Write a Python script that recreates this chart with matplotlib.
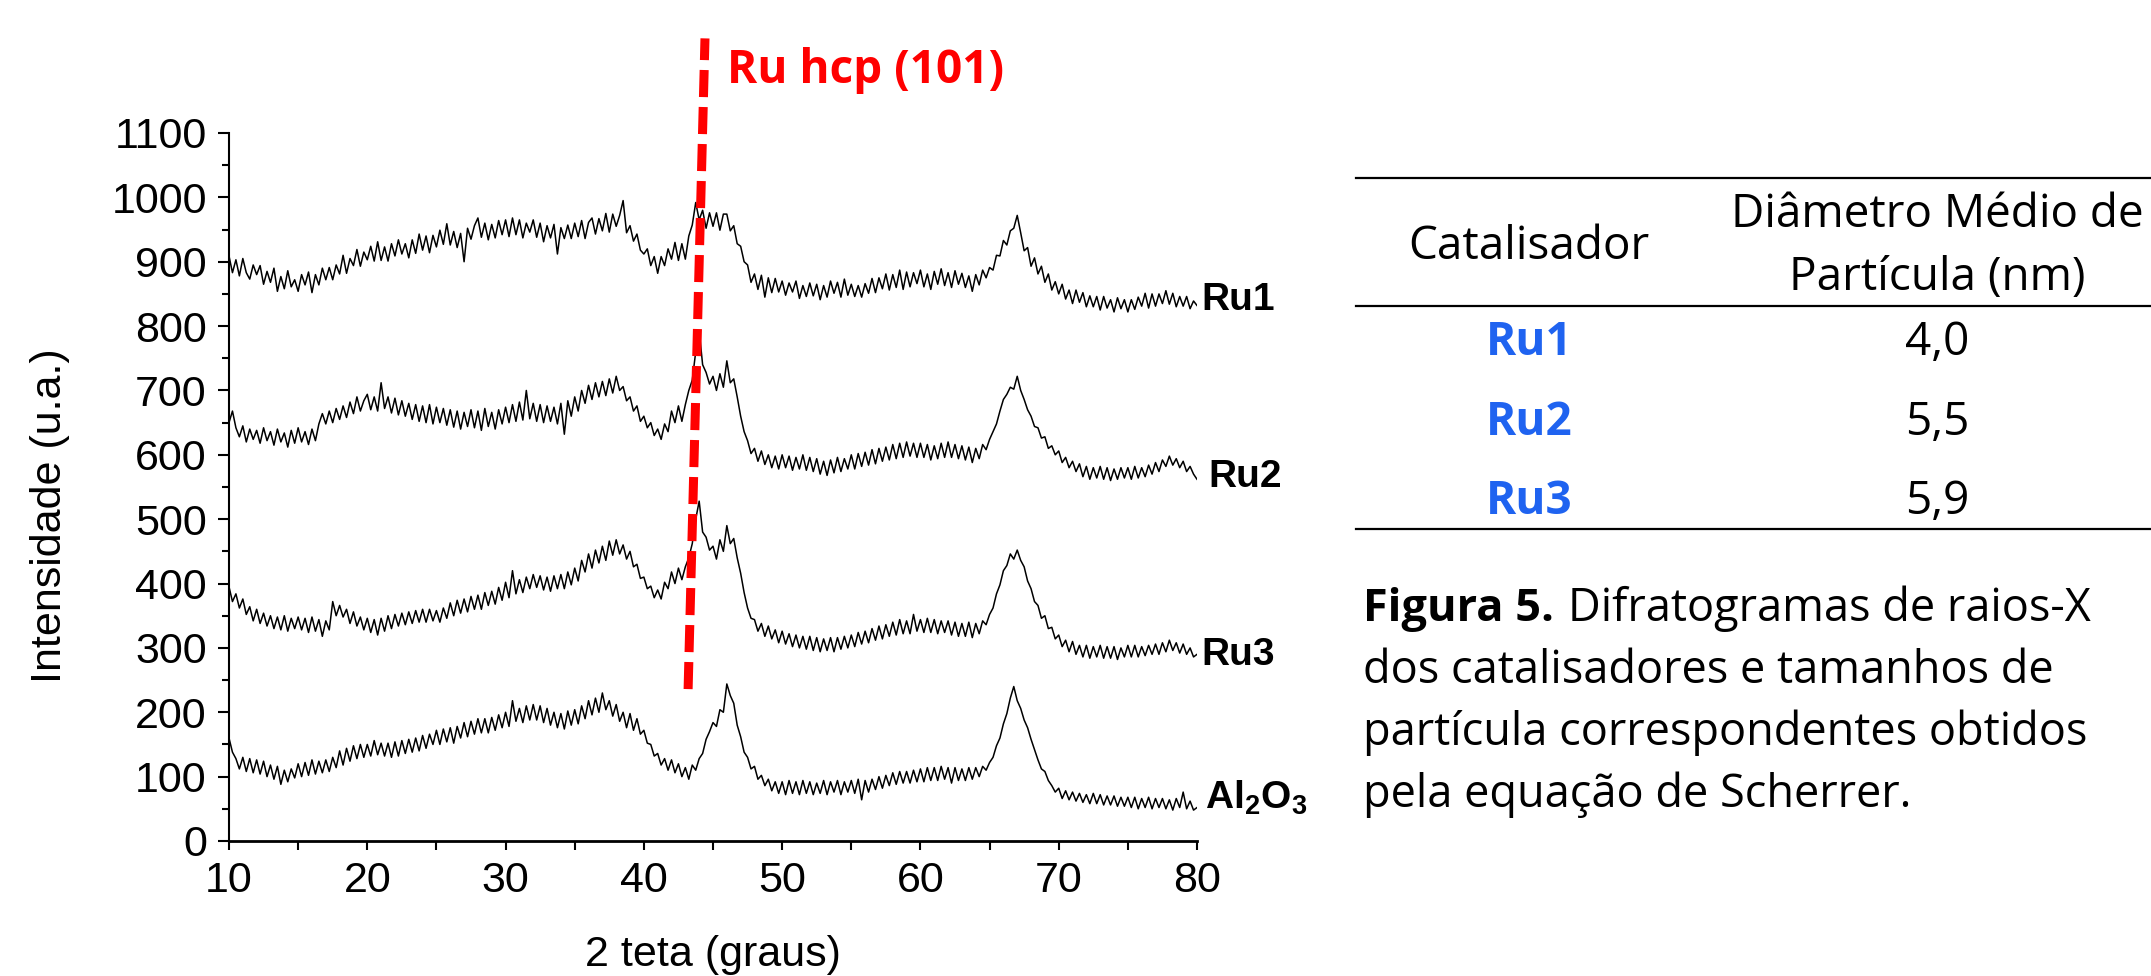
"""XRD patterns of the Ru catalysts plus the Scherrer particle-size table."""
import matplotlib
matplotlib.use("Agg")
import matplotlib.pyplot as plt
from matplotlib.lines import Line2D
from matplotlib.ticker import MultipleLocator
import numpy as np

plt.rcParams["font.family"] = ["Liberation Sans", "DejaVu Sans"]
plt.rcParams["mathtext.fontset"] = "custom"
plt.rcParams["mathtext.rm"] = "Liberation Sans"
plt.rcParams["mathtext.bf"] = "Liberation Sans:bold"

# ---------------------------------------------------------------------
# Data (2-theta every 0.25 deg, 10 -> 80; one row = 5 deg)
# ---------------------------------------------------------------------
TWO_THETA = np.arange(10.0, 80.001, 0.25)

RU1 = [
    909, 883, 903, 878, 905, 883, 873, 895, 880, 894, 865, 885, 868, 890, 854, 877, 858, 886, 861, 872,
    854, 880, 864, 884, 852, 880, 864, 890, 872, 891, 872, 895, 881, 910, 882, 905, 894, 919, 893, 915,
    903, 924, 901, 931, 902, 923, 901, 928, 909, 934, 912, 928, 906, 934, 913, 943, 918, 940, 914, 941,
    923, 949, 927, 959, 926, 947, 922, 944, 900, 952, 935, 956, 968, 938, 960, 934, 958, 937, 964, 942,
    965, 939, 968, 942, 965, 937, 960, 946, 965, 938, 960, 931, 956, 937, 958, 912, 953, 936, 957, 936,
    960, 939, 964, 936, 961, 968, 943, 967, 948, 975, 946, 974, 955, 972, 995, 945, 956, 932, 943, 918,
    912, 920, 894, 908, 882, 908, 894, 920, 904, 930, 902, 928, 904, 940, 957, 992, 965, 980, 952, 976,
    955, 976, 949, 974, 974, 948, 956, 928, 924, 900, 895, 868, 881, 857, 879, 845, 875, 852, 874, 853,
    870, 848, 867, 853, 870, 843, 863, 846, 867, 847, 865, 841, 863, 845, 870, 851, 868, 845, 873, 848,
    865, 846, 863, 845, 866, 851, 874, 852, 875, 858, 881, 856, 880, 860, 887, 857, 884, 861, 883, 866,
    887, 861, 881, 857, 885, 865, 889, 863, 883, 860, 886, 865, 882, 860, 878, 854, 880, 864, 887, 875,
    891, 887, 910, 909, 933, 926, 948, 952, 972, 945, 917, 922, 893, 906, 881, 893, 868, 881, 856, 869,
    850, 865, 842, 856, 835, 856, 837, 852, 830, 847, 830, 846, 825, 846, 828, 841, 822, 844, 827, 841,
    822, 841, 826, 845, 831, 851, 828, 850, 831, 850, 835, 855, 834, 851, 830, 846, 831, 846, 827, 839,
    832,
]
RU2 = [
    650, 668, 642, 628, 645, 620, 640, 624, 638, 618, 642, 622, 636, 615, 640, 620, 634, 612, 638, 618,
    642, 620, 636, 616, 640, 622, 648, 664, 648, 668, 650, 672, 655, 676, 658, 682, 664, 690, 668, 684,
    694, 670, 690, 668, 712, 672, 690, 665, 688, 662, 684, 660, 680, 655, 678, 652, 676, 650, 678, 648,
    674, 650, 672, 646, 670, 643, 668, 640, 666, 644, 670, 642, 668, 638, 672, 644, 666, 640, 670, 648,
    674, 650, 678, 652, 682, 654, 700, 656, 680, 652, 678, 650, 676, 652, 674, 648, 680, 632, 684, 660,
    690, 668, 700, 680, 708, 686, 712, 690, 714, 692, 718, 696, 722, 700, 706, 684, 690, 668, 676, 652,
    660, 642, 650, 630, 640, 624, 648, 636, 668, 650, 676, 652, 678, 700, 716, 760, 793, 740, 728, 710,
    722, 700, 726, 705, 746, 712, 718, 690, 660, 636, 622, 602, 610, 590, 606, 585, 600, 580, 598, 578,
    600, 580, 598, 576, 596, 578, 600, 576, 596, 574, 594, 570, 590, 568, 592, 572, 596, 574, 594, 578,
    600, 578, 602, 582, 604, 584, 608, 586, 610, 590, 612, 592, 616, 594, 618, 596, 620, 598, 618, 596,
    618, 596, 616, 592, 614, 594, 618, 596, 620, 596, 616, 594, 614, 592, 612, 588, 610, 594, 616, 608,
    624, 636, 648, 668, 686, 694, 705, 702, 722, 700, 686, 670, 660, 644, 642, 626, 628, 610, 614, 600,
    606, 588, 596, 580, 590, 574, 586, 566, 582, 562, 580, 564, 582, 562, 580, 560, 578, 562, 580, 564,
    580, 562, 582, 564, 580, 566, 584, 570, 588, 574, 592, 582, 598, 584, 594, 580, 590, 574, 582, 570,
    562,
]
RU3 = [
    395, 372, 384, 362, 376, 352, 364, 342, 360, 338, 354, 334, 350, 330, 348, 328, 350, 326, 346, 330,
    348, 328, 346, 324, 348, 326, 344, 318, 342, 328, 372, 350, 366, 348, 360, 338, 356, 334, 348, 328,
    346, 324, 344, 320, 346, 326, 350, 330, 352, 334, 354, 336, 356, 338, 358, 340, 360, 340, 360, 342,
    358, 340, 362, 346, 370, 350, 374, 354, 376, 356, 380, 360, 382, 360, 386, 366, 388, 368, 394, 374,
    402, 378, 420, 384, 406, 386, 410, 392, 414, 394, 412, 390, 410, 388, 412, 392, 414, 392, 418, 398,
    424, 404, 436, 418, 446, 424, 452, 432, 458, 436, 466, 444, 468, 446, 460, 438, 450, 426, 430, 408,
    410, 392, 396, 378, 390, 376, 402, 392, 418, 400, 424, 406, 426, 440, 462, 500, 528, 480, 472, 452,
    458, 438, 468, 450, 490, 462, 470, 440, 416, 386, 362, 346, 344, 326, 338, 318, 334, 314, 328, 308,
    326, 306, 322, 302, 320, 300, 318, 298, 318, 296, 316, 294, 314, 296, 316, 294, 316, 298, 318, 300,
    320, 302, 324, 306, 326, 308, 330, 312, 334, 314, 336, 318, 340, 320, 344, 322, 342, 322, 352, 326,
    344, 324, 346, 324, 344, 322, 342, 324, 342, 320, 340, 318, 338, 318, 340, 316, 338, 322, 342, 336,
    352, 362, 384, 398, 420, 428, 446, 438, 452, 436, 426, 404, 392, 372, 366, 346, 350, 330, 332, 314,
    320, 302, 312, 294, 310, 290, 304, 286, 304, 284, 302, 286, 304, 284, 302, 284, 302, 282, 300, 286,
    304, 286, 304, 286, 302, 288, 304, 290, 306, 290, 308, 294, 312, 296, 308, 292, 306, 290, 300, 286,
    290,
]
AL2O3 = [
    160, 138, 128, 112, 130, 108, 128, 106, 126, 104, 124, 100, 118, 96, 116, 88, 110, 92, 112, 98,
    120, 100, 122, 102, 126, 104, 124, 106, 126, 108, 130, 114, 140, 118, 144, 124, 148, 128, 150, 130,
    150, 132, 156, 134, 152, 132, 152, 130, 154, 132, 156, 136, 158, 138, 160, 140, 164, 144, 166, 150,
    172, 150, 174, 154, 176, 152, 178, 160, 184, 162, 186, 166, 190, 168, 190, 168, 192, 172, 196, 176,
    200, 178, 218, 186, 206, 184, 210, 188, 212, 188, 210, 184, 206, 180, 200, 176, 198, 174, 202, 180,
    204, 182, 210, 190, 218, 196, 222, 200, 230, 204, 218, 194, 212, 186, 200, 176, 198, 172, 190, 166,
    172, 152, 150, 132, 136, 118, 128, 110, 126, 106, 120, 100, 114, 96, 118, 110, 128, 136, 158, 170,
    184, 178, 204, 200, 244, 226, 214, 180, 162, 138, 130, 112, 116, 96, 102, 86, 96, 78, 92, 74,
    92, 72, 94, 74, 92, 72, 94, 74, 92, 72, 90, 74, 94, 72, 92, 76, 94, 72, 92, 76,
    94, 74, 96, 64, 94, 76, 96, 80, 100, 82, 102, 86, 106, 88, 108, 90, 108, 90, 110, 92,
    112, 92, 114, 94, 114, 94, 116, 96, 114, 90, 114, 94, 112, 94, 114, 96, 114, 100, 116, 110,
    122, 130, 148, 160, 182, 198, 222, 240, 218, 206, 188, 176, 158, 142, 126, 112, 108, 94, 86, 76,
    82, 66, 78, 64, 76, 62, 74, 60, 72, 58, 74, 58, 72, 56, 70, 56, 70, 54, 68, 54,
    68, 52, 68, 50, 66, 52, 68, 50, 66, 52, 66, 50, 64, 48, 66, 52, 76, 50, 62, 48,
    52,
]

SERIES = [RU1, RU2, RU3, AL2O3]
SERIES_LABELS = ["Ru1", "Ru2", "Ru3", r"$\mathbf{Al_2O_3}$"]
LABEL_POS = [(80.35, 840), (80.8, 566), (80.35, 289), (80.6, 67)]

# Ru hcp (101) reference line, data coords
HCP_X = [43.2, 44.42]
HCP_Y = [236, 1247]

# Table
CATALYSTS = ["Ru1", "Ru2", "Ru3"]
DIAMETERS = ["4,0", "5,5", "5,9"]

CAPTION_BOLD = "Figura 5."
CAPTION_LINES = [
    "Difratogramas de raios-X",
    "dos catalisadores e tamanhos de",
    "partícula correspondentes obtidos",
    "pela equação de Scherrer.",
]

W, H = 2151, 976
fig = plt.figure(figsize=(W / 100, H / 100), dpi=100)


def fx(px):
    return px / W


def fy(py):
    return 1 - py / H


ax = fig.add_axes([fx(229), fy(841), 968 / W, 708 / H])

for y in SERIES:
    assert len(y) == len(TWO_THETA)
    ax.plot(TWO_THETA, y, color="black", linewidth=1.1)

for lab, (lx, ly) in zip(SERIES_LABELS, LABEL_POS):
    ax.text(lx, ly, lab, fontsize=28, fontweight="bold", ha="left",
            va="center", clip_on=False)

ax.plot(HCP_X, HCP_Y, color="#ff0000", linewidth=6.5, clip_on=False,
        dashes=(3.0, 1.1), solid_capstyle="butt", dash_capstyle="butt")

ax.set_xlim(10, 80)
ax.set_ylim(0, 1100)
ax.xaxis.set_major_locator(MultipleLocator(10))
ax.xaxis.set_minor_locator(MultipleLocator(5))
ax.yaxis.set_major_locator(MultipleLocator(100))
ax.yaxis.set_minor_locator(MultipleLocator(50))
for side in ("top", "right"):
    ax.spines[side].set_visible(False)
ax.spines["left"].set_linewidth(1.5)
ax.spines["bottom"].set_linewidth(2.0)
ax.tick_params(which="major", length=8, width=1.5, labelsize=31, pad=8)
ax.tick_params(which="minor", length=5, width=1.5)
ax.tick_params(axis="x", which="both", length=6.5)

ax.set_xlabel("2 teta (graus)", fontsize=31)
ax.set_ylabel("Intensidade (u.a.)", fontsize=31)
ax.xaxis.label.set_va("center")
ax.yaxis.label.set_va("center")
ax.xaxis.set_label_coords(0.5, (841 - 955) / 708)
ax.yaxis.set_label_coords((50 - 229) / 968, (841 - 516) / 708)

fig.text(fx(727), fy(83), "Ru hcp (101)", color="#ff0000", fontsize=33,
         fontweight="bold", family="Open Sans", va="baseline")

# ---------------------------------------------------------------------
# Table
# ---------------------------------------------------------------------
for py in (178, 306, 529):
    fig.add_artist(Line2D([fx(1356), 1.0], [fy(py), fy(py)],
                          color="black", linewidth=1.6))

TFONT = dict(family="Open Sans", fontsize=33, va="baseline", ha="center")
fig.text(fx(1529), fy(259), "Catalisador", **TFONT)
fig.text(fx(1937), fy(227), "Diâmetro Médio de", **TFONT)
fig.text(fx(1937), fy(290), "Partícula (nm)", **TFONT)
for cat, dia, py in zip(CATALYSTS, DIAMETERS, (355, 435, 514)):
    fig.text(fx(1529), fy(py), cat, color="#1f63f0", fontweight="bold", **TFONT)
    fig.text(fx(1937), fy(py), dia, **TFONT)

# Caption: bold lead-in, then the rest of line 1 right after it
CFONT = dict(family="Open Sans", fontsize=32.5, va="baseline", ha="left")
lead = fig.text(fx(1363), fy(621), CAPTION_BOLD, fontweight="bold", **CFONT)
renderer = fig.canvas.get_renderer()
lead_right = lead.get_window_extent(renderer).x1
fig.text((lead_right + 14) / W, fy(621), CAPTION_LINES[0], **CFONT)
for line, py in zip(CAPTION_LINES[1:], (683, 745, 807)):
    fig.text(fx(1363), fy(py), line, **CFONT)

fig.savefig("out.png", dpi=100)
